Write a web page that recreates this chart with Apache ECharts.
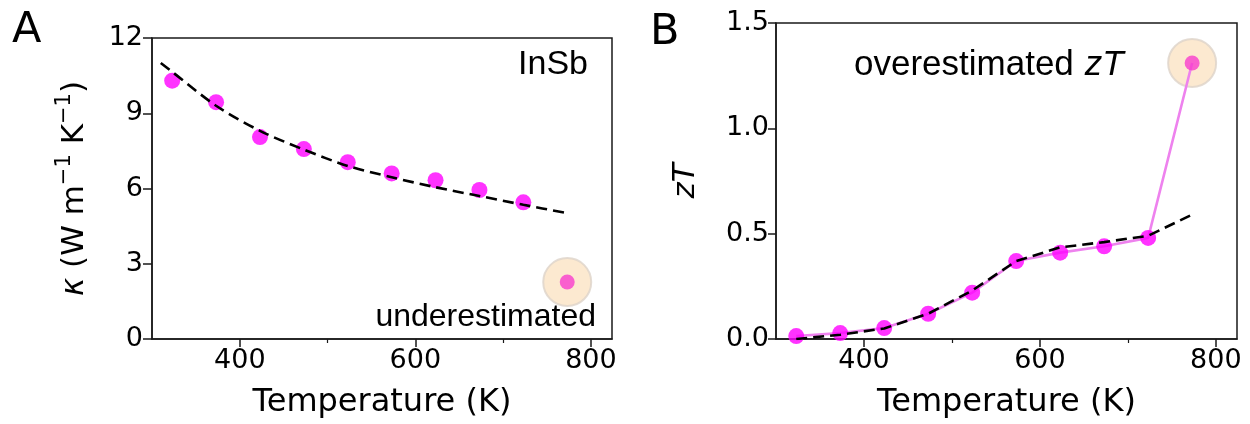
<!DOCTYPE html>
<html><head><meta charset="utf-8">
<script src="https://cdn.jsdelivr.net/npm/echarts@6/dist/echarts.min.js"></script>
<style>html,body{margin:0;padding:0;background:#fff}#c{width:1250px;height:424px}</style>
</head><body><div id="c"></div>
<script>
// Panel A: thermal conductivity of InSb
const tempA = [323, 373, 423, 473, 523, 573, 623, 673, 723];
const kappaA = [10.3, 9.44, 8.05, 7.57, 7.05, 6.6, 6.33, 5.94, 5.45];
const fitTempA = [310, 323, 373, 423, 473, 523, 573, 623, 673, 723, 773];
const fitKappaA = [11.0, 10.65, 9.3, 8.3, 7.55, 6.9, 6.45, 6.05, 5.7, 5.35, 5.02];
const outlierA = [773, 2.27];
// Panel B: figure of merit zT
const tempB = [323, 373, 423, 473, 523, 573, 623, 673, 723, 773];
const ztB = [0.014, 0.028, 0.052, 0.12, 0.22, 0.37, 0.41, 0.44, 0.48, 1.31];
const fitTempB = [323, 373, 423, 473, 523, 573, 623, 673, 723, 773];
const fitZtB = [0.0, 0.02, 0.05, 0.12, 0.23, 0.37, 0.435, 0.46, 0.49, 0.59];
// Ticks
const xTicks = [400, 600, 800];
const xMinorTicks = [500, 700];

const zip = (a, b) => a.map((v, i) => [v, b[i]]);
const AX = '#1a1a1a';
const FONT = 'DejaVu Sans';
const ARIAL = 'Liberation Sans';

function xMain(g) {
  return {
    gridIndex: g, type: 'value', min: 300, max: 824, position: 'bottom',
    axisLine: {show: true, onZero: false, lineStyle: {color: AX, width: 1.5}},
    axisTick: {show: true, customValues: xTicks, length: 8, lineStyle: {color: AX, width: 1.5}},
    axisLabel: {customValues: xTicks, fontSize: 27, color: '#000', fontFamily: FONT, margin: 8},
    splitLine: {show: false},
    name: 'Temperature (K)', nameLocation: 'middle', nameGap: 48,
    nameTextStyle: {fontSize: 32, color: '#000', fontFamily: FONT}
  };
}
function xMinor(g) {
  return {
    gridIndex: g, type: 'value', min: 300, max: 824, position: 'bottom',
    axisLine: {show: false},
    axisTick: {show: true, customValues: xMinorTicks, length: 4, lineStyle: {color: AX, width: 1.2}},
    axisLabel: {show: false}, splitLine: {show: false}
  };
}

const option = {
  animation: false,
  backgroundColor: '#fff',
  grid: [
    {left: 152, top: 38, width: 460, height: 301, show: true, borderColor: AX, borderWidth: 1.5, backgroundColor: 'transparent'},
    {left: 776, top: 23, width: 461, height: 316, show: true, borderColor: AX, borderWidth: 1.5, backgroundColor: 'transparent'}
  ],
  xAxis: [xMain(0), xMinor(0), xMain(1), xMinor(1)],
  yAxis: [
    {gridIndex: 0, type: 'value', min: 0, max: 12, interval: 3,
     axisLine: {show: true, lineStyle: {color: AX, width: 1.5}},
     axisTick: {show: true, length: 9, lineStyle: {color: AX, width: 1.5}},
     axisLabel: {fontSize: 27, color: '#000', fontFamily: FONT, margin: 9},
     splitLine: {show: false},
     name: '{k|κ}{n| (W m}{s|−1}{n| K}{s|−1}{n|)}', nameLocation: 'middle', nameGap: 62,
     nameTextStyle: {color: '#000', fontFamily: FONT, rich: {
       k: {fontSize: 31, fontFamily: FONT, fontStyle: 'italic', lineHeight: 36, verticalAlign: 'bottom', color: '#000'},
       n: {fontSize: 31, fontFamily: FONT, lineHeight: 36, verticalAlign: 'bottom', color: '#000'},
       s: {fontSize: 21, fontFamily: FONT, lineHeight: 21, verticalAlign: 'top', color: '#000'}
     }}},
    {gridIndex: 1, type: 'value', min: 0, max: 1.5, interval: 0.5,
     axisLine: {show: true, lineStyle: {color: AX, width: 1.5}},
     axisTick: {show: true, length: 8, lineStyle: {color: AX, width: 1.5}},
     axisLabel: {fontSize: 27, color: '#000', fontFamily: FONT, margin: 7, formatter: v => v.toFixed(1)},
     splitLine: {show: false},
     name: 'zT', nameLocation: 'middle', nameGap: 75,
     nameTextStyle: {fontSize: 31, color: '#000', fontFamily: FONT, fontStyle: 'italic'}}
  ],
  series: [
    // Panel A
    {type: 'scatter', xAxisIndex: 0, yAxisIndex: 0, data: zip(tempA, kappaA), symbolSize: 16,
     itemStyle: {color: '#ff00ff'}, z: 2},
    {type: 'line', xAxisIndex: 0, yAxisIndex: 0, data: zip(fitTempA, fitKappaA), smooth: 0.3, showSymbol: false,
     lineStyle: {color: '#000', width: 2.6, type: [11, 6]}, z: 3},
    {type: 'scatter', xAxisIndex: 0, yAxisIndex: 0, data: [outlierA], symbolSize: 48,
     itemStyle: {color: '#fbe4c4', borderColor: '#ddd3c9', borderWidth: 2}, z: 4},
    {type: 'scatter', xAxisIndex: 0, yAxisIndex: 0, data: [outlierA], symbolSize: 15,
     itemStyle: {color: '#f73ccd'}, z: 5},
    // Panel B
    {type: 'scatter', xAxisIndex: 2, yAxisIndex: 1, data: [[tempB[9], ztB[9]]], symbolSize: 48,
     itemStyle: {color: '#fbe4c4', borderColor: '#ddd3c9', borderWidth: 2}, z: 1},
    {type: 'line', xAxisIndex: 2, yAxisIndex: 1, data: zip(tempB, ztB), showSymbol: false,
     lineStyle: {color: '#ee82ee', width: 2.6}, z: 2},
    {type: 'scatter', xAxisIndex: 2, yAxisIndex: 1, data: zip(tempB.slice(0, 9), ztB.slice(0, 9)), symbolSize: 16,
     itemStyle: {color: '#ff00ff'}, z: 3},
    {type: 'line', xAxisIndex: 2, yAxisIndex: 1, data: zip(fitTempB, fitZtB), showSymbol: false,
     lineStyle: {color: '#000', width: 2.6, type: [11, 6]}, z: 4},
    {type: 'scatter', xAxisIndex: 2, yAxisIndex: 1, data: [[tempB[9], ztB[9]]], symbolSize: 15,
     itemStyle: {color: '#f73ccd'}, z: 5}
  ],
  graphic: [
    {type: 'text', left: 12, top: 9, style: {text: 'A', fontSize: 43, fontFamily: FONT, fill: '#000'}},
    {type: 'text', left: 650, top: 11, style: {text: 'B', fontSize: 43, fontFamily: FONT, fill: '#000'}},
    {type: 'text', right: 1250 - 588, top: 48, style: {text: 'InSb', fontSize: 34, fontFamily: ARIAL, fill: '#000'}},
    {type: 'text', right: 1250 - 596, top: 301, style: {text: 'underestimated', fontSize: 32, fontFamily: ARIAL, fill: '#000'}},
    {type: 'text', left: 854, top: 48, style: {
      text: '{a|overestimated}{b|zT}',
      rich: {a: {fontSize: 35, fontFamily: ARIAL, fill: '#000'},
             b: {fontSize: 35, fontFamily: ARIAL, fontStyle: 'italic', fill: '#000', padding: [0, 0, 0, 11]}}}}
  ]
};
const chart = echarts.init(document.getElementById('c'), null, {renderer: 'canvas'});
chart.setOption(option);
</script>
</body></html>
